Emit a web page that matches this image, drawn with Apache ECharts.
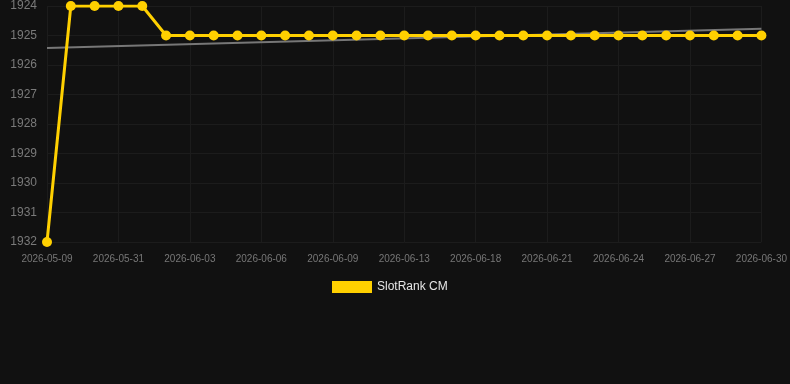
<!DOCTYPE html>
<html>
<head>
<meta charset="utf-8">
<style>
  html, body { margin: 0; padding: 0; background: #111111; }
  #chart { width: 790px; height: 384px; }
</style>
<script src="https://cdn.jsdelivr.net/npm/echarts@6/dist/echarts.min.js"></script>
</head>
<body>
<div id="chart"></div>
<script>
// dates on the x axis (one per point)
const dates = [
  '2026-05-09', '2026-05-16', '2026-05-24', '2026-05-31', '2026-06-01', '2026-06-02',
  '2026-06-03', '2026-06-04', '2026-06-05', '2026-06-06', '2026-06-07', '2026-06-08',
  '2026-06-09', '2026-06-10', '2026-06-12', '2026-06-13', '2026-06-14', '2026-06-16',
  '2026-06-18', '2026-06-19', '2026-06-20', '2026-06-21', '2026-06-22', '2026-06-23',
  '2026-06-24', '2026-06-25', '2026-06-26', '2026-06-27', '2026-06-28', '2026-06-29',
  '2026-06-30'
];

// rank values
const ranks = [
  1932, 1924, 1924, 1924, 1924, 1925,
  1925, 1925, 1925, 1925, 1925, 1925,
  1925, 1925, 1925, 1925, 1925, 1925,
  1925, 1925, 1925, 1925, 1925, 1925,
  1925, 1925, 1925, 1925, 1925, 1925,
  1925
];

// trend line end points (first and last date)
const trendValues = [1925.42, 1924.77];

const chart = echarts.init(document.getElementById('chart'));

chart.setOption({
  backgroundColor: '#111111',
  animation: false,
  grid: { left: 47, right: 28, top: 6, bottom: 142 },
  legend: {
    data: ['SlotRank CM'],
    top: 276,
    left: 327,
    itemWidth: 40,
    itemHeight: 12,
    itemGap: 6,
    icon: 'rect',
    textStyle: { color: '#e6e6e6', fontSize: 12, fontFamily: 'Liberation Sans, Arial, sans-serif' }
  },
  xAxis: {
    type: 'category',
    data: dates,
    boundaryGap: false,
    axisLine: { show: false },
    axisTick: { show: false },
    axisLabel: {
      interval: 2,
      color: '#777777',
      fontSize: 10,
      margin: 12,
      fontFamily: 'Liberation Sans, Arial, sans-serif'
    },
    splitLine: { show: true, interval: 2, lineStyle: { color: '#1c1c1c', width: 1 } }
  },
  yAxis: {
    type: 'value',
    inverse: true,
    min: 1924,
    max: 1932,
    interval: 1,
    axisLine: { show: false },
    axisTick: { show: false },
    axisLabel: {
      color: '#7a7a7a',
      fontSize: 12,
      margin: 10,
      formatter: v => String(v),
      fontFamily: 'Liberation Sans, Arial, sans-serif'
    },
    splitLine: { lineStyle: { color: '#1c1c1c', width: 1 } }
  },
  series: [
    {
      name: 'trend',
      type: 'line',
      data: [[dates[0], trendValues[0]], [dates[dates.length - 1], trendValues[1]]],
      symbol: 'none',
      lineStyle: { color: '#777777', width: 2 },
      z: 1,
      silent: true
    },
    {
      name: 'SlotRank CM',
      type: 'line',
      data: ranks,
      symbol: 'circle',
      symbolSize: 10,
      itemStyle: { color: '#FFD000' },
      lineStyle: { color: '#FFD000', width: 3 },
      z: 2
    }
  ]
});
</script>
</body>
</html>
